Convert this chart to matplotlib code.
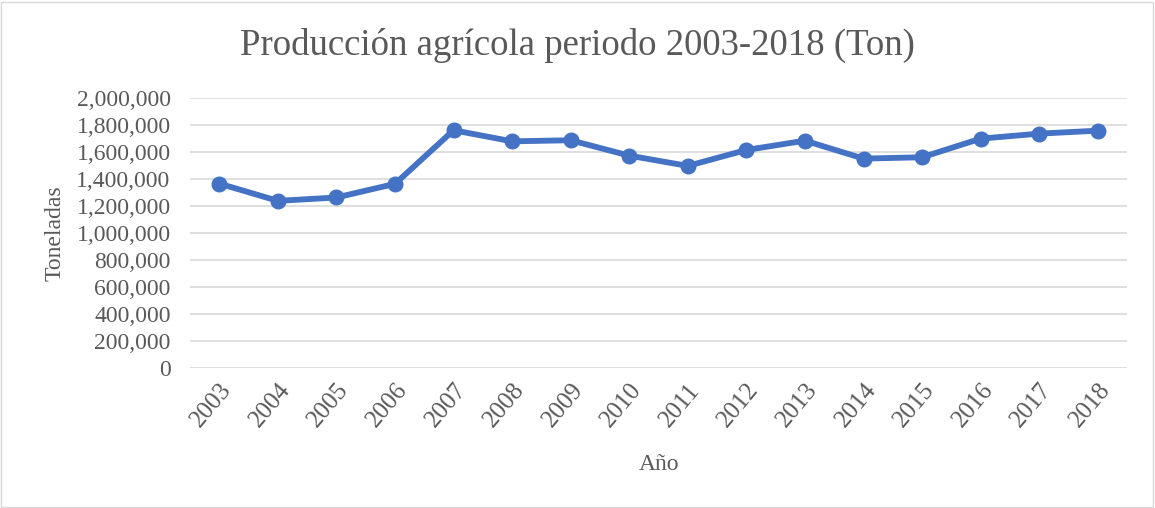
import matplotlib
matplotlib.use('Agg')
import matplotlib.pyplot as plt
from matplotlib.patches import Rectangle
from matplotlib.ticker import FuncFormatter

years = ['2003', '2004', '2005', '2006', '2007', '2008', '2009', '2010',
         '2011', '2012', '2013', '2014', '2015', '2016', '2017', '2018']
toneladas = [1366000, 1238000, 1263000, 1364000, 1761000, 1679000, 1687000, 1573000,
             1497000, 1615000, 1684000, 1551000, 1561000, 1699000, 1736000, 1758000]

plt.rcParams['font.family'] = ['Liberation Serif', 'DejaVu Serif']
text_color = '#595959'

fig = plt.figure(figsize=(11.55, 5.08), dpi=100)
fig.patches.append(Rectangle((0.001, 0.002), 0.997, 0.995, transform=fig.transFigure,
                             fill=False, edgecolor='#d9d9d9', linewidth=1))
ax = fig.add_axes([0.1645, 0.2756, 0.8113, 0.5315])

ax.plot(range(len(years)), toneladas, color='#4472C4', linewidth=4.2,
        marker='o', markersize=10.5, solid_capstyle='round')

ax.set_xlim(-0.5, len(years) - 0.5)
ax.set_ylim(0, 2000000)
ax.set_yticks(range(0, 2000001, 200000))
ax.yaxis.set_major_formatter(FuncFormatter(lambda v, p: f'{int(v):,}'))
ax.set_xticks(range(len(years)))
ax.set_xticklabels(years, rotation=50, ha='right', rotation_mode='anchor', fontsize=18)

ax.grid(axis='y', color='#d9d9d9', linewidth=1.2)
ax.set_axisbelow(True)
for s in ax.spines.values():
    s.set_visible(False)
ax.tick_params(length=0, labelcolor=text_color)
ax.tick_params(axis='y', pad=14, labelsize=17)
ax.tick_params(axis='x', pad=8)

# title is centred on the whole figure, not on the plot area
fig.text(0.5, 0.91, 'Producción agrícola periodo 2003-2018 (Ton)', fontsize=26.5,
         color=text_color, ha='center', va='center')
ax.set_xlabel('Año', fontsize=17, color=text_color, labelpad=16)
ax.set_ylabel('Toneladas', fontsize=17, color=text_color, labelpad=8)

fig.savefig('out.png', dpi=100)
